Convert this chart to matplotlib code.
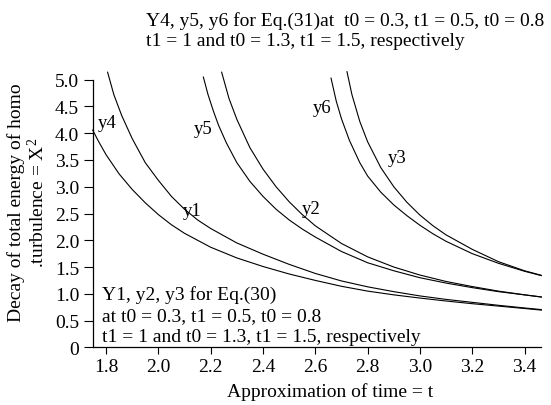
import matplotlib.pyplot as plt

plt.rcParams['font.family'] = ['Liberation Serif', 'DejaVu Serif']
plt.rcParams['mathtext.fontset'] = 'custom'
plt.rcParams['mathtext.rm'] = 'Liberation Serif'
plt.rcParams['mathtext.it'] = 'Liberation Serif:italic'

# Eq.(30) curves
t_y1 = [1.806, 1.83, 1.86, 1.90, 1.95, 2.00, 2.05, 2.10, 2.15, 2.20, 2.30, 2.40,
        2.50, 2.60, 2.70, 2.80, 2.90, 3.00, 3.10, 3.20, 3.30, 3.40, 3.464]
y1 = [5.14, 4.72, 4.33, 3.90, 3.45, 3.12, 2.82, 2.58, 2.38, 2.22, 1.95, 1.74,
      1.55, 1.38, 1.24, 1.13, 1.04, 0.96, 0.895, 0.84, 0.785, 0.735, 0.705]

t_y2 = [2.242, 2.27, 2.30, 2.35, 2.40, 2.45, 2.50, 2.55, 2.60, 2.70, 2.80, 2.90,
        3.00, 3.10, 3.20, 3.30, 3.40, 3.464]
y2 = [5.14, 4.65, 4.26, 3.73, 3.33, 3.00, 2.72, 2.48, 2.27, 1.94, 1.69, 1.50,
      1.35, 1.23, 1.135, 1.05, 0.98, 0.94]

t_y3 = [2.721, 2.74, 2.77, 2.80, 2.85, 2.90, 2.95, 3.00, 3.05, 3.10, 3.20, 3.30,
        3.40, 3.464]
y3 = [5.15, 4.72, 4.22, 3.84, 3.36, 3.00, 2.71, 2.47, 2.27, 2.10, 1.83, 1.60,
      1.43, 1.345]

# Eq.(31) curves
t_y4 = [1.749, 1.77, 1.80, 1.85, 1.90, 1.95, 2.00, 2.05, 2.10, 2.20, 2.30, 2.40,
        2.50, 2.60, 2.70, 2.80, 2.90, 3.00, 3.10, 3.20, 3.30, 3.40, 3.464]
y4 = [4.06, 3.86, 3.60, 3.24, 2.95, 2.70, 2.48, 2.29, 2.13, 1.87, 1.67, 1.51,
      1.37, 1.25, 1.14, 1.05, 0.98, 0.92, 0.865, 0.815, 0.77, 0.725, 0.695]

t_y5 = [2.172, 2.19, 2.21, 2.23, 2.26, 2.30, 2.35, 2.40, 2.45, 2.50, 2.55, 2.60,
        2.70, 2.80, 2.90, 3.00, 3.10, 3.20, 3.30, 3.40, 3.464]
y5 = [5.05, 4.72, 4.42, 4.15, 3.82, 3.45, 3.10, 2.82, 2.58, 2.38, 2.21, 2.06,
      1.79, 1.58, 1.43, 1.30, 1.20, 1.115, 1.04, 0.98, 0.94]

t_y6 = [2.66, 2.68, 2.70, 2.73, 2.77, 2.80, 2.85, 2.90, 2.95, 3.00, 3.05, 3.10,
        3.20, 3.30, 3.40, 3.464]
y6 = [5.03, 4.60, 4.27, 3.87, 3.45, 3.20, 2.90, 2.66, 2.46, 2.28, 2.12, 1.98,
      1.75, 1.57, 1.42, 1.34]

x_ticks = [1.8, 2.0, 2.2, 2.4, 2.6, 2.8, 3.0, 3.2, 3.4]
x_labels = ['1.8', '2.0', '2.2', '2.4', '2.6', '2.8', '3.0', '3.2', '3.4']
y_ticks = [0, 0.5, 1.0, 1.5, 2.0, 2.5, 3.0, 3.5, 4.0, 4.5, 5.0]
y_labels = ['0', '0.5', '1.0', '1.5', '2.0', '2.5', '3.0', '3.5', '4.0', '4.5', '5.0']

# curve names and where they are written
curve_tags = [('y4', 1.77, 4.11), ('y1', 2.095, 2.47), ('y5', 2.134, 4.00),
              ('y2', 2.548, 2.51), ('y6', 2.592, 4.40), ('y3', 2.879, 3.46)]

fig = plt.figure(figsize=(5.51, 4.06), dpi=100)
ax = fig.add_axes([0.1682, 0.1421, 0.8143, 0.6591])

for t, v in [(t_y1, y1), (t_y2, y2), (t_y3, y3), (t_y4, y4), (t_y5, y5), (t_y6, y6)]:
    ax.plot(t, v, color='black', lw=0.8, clip_on=False)

ax.set_xlim(1.749, 3.464)
ax.set_ylim(0, 5)
ax.spines[['top', 'right']].set_visible(False)
ax.spines[['left', 'bottom']].set_linewidth(0.9)
ax.set_xticks(x_ticks, x_labels)
ax.set_yticks(y_ticks, y_labels)
ax.tick_params(axis='x', length=4.8, width=0.8, pad=3, labelsize=14)
ax.tick_params(axis='y', length=6.2, width=0.8, pad=3.5, labelsize=14)

for name, t, v in curve_tags:
    ax.text(t, v, name, fontsize=13.5, va='baseline', ha='left')

ax.text(1.785, 0.91, 'Y1, y2, y3 for Eq.(30)', fontsize=14, va='baseline')
ax.text(1.785, 0.51, 'at t0 = 0.3, t1 = 0.5, t0 = 0.8', fontsize=14, va='baseline')
ax.text(1.785, 0.11, 't1 = 1 and t0 = 1.3, t1 = 1.5, respectively', fontsize=14,
        va='baseline')

fig.text(146 / 551, 1 - 26 / 406, 'Y4, y5, y6 for Eq.(31)at  t0 = 0.3, t1 = 0.5, t0 = 0.8',
         fontsize=14, va='baseline')
fig.text(146 / 551, 1 - 46 / 406, 't1 = 1 and t0 = 1.3, t1 = 1.5, respectively',
         fontsize=14, va='baseline')

ax.set_xlabel('Approximation of time = t', fontsize=14, va='baseline')
ax.xaxis.set_label_coords(0.530, -0.182)
ax.set_ylabel('Decay of total energy of homo\n.turbulence = $\\mathrm{X}^2$',
              fontsize=14, va='center', linespacing=1.1)
ax.yaxis.set_label_coords(-0.145, 0.543)

fig.savefig('out.png', dpi=100)
